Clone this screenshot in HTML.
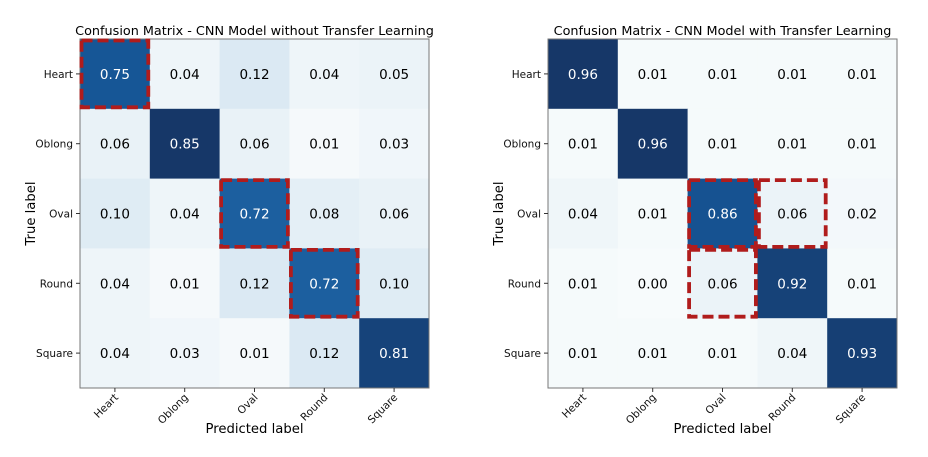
<!DOCTYPE html>
<html><head><meta charset="utf-8"><style>
body{margin:0;background:#fff;}
svg text{font-family:"DejaVu Sans","Liberation Sans",sans-serif;}
</style></head><body>
<svg id="c" width="928" height="452" xmlns="http://www.w3.org/2000/svg"></svg>
<script>
const categories = ["Heart","Oblong","Oval","Round","Square"];
const valuesLeft = [
 [0.75,0.04,0.12,0.04,0.05],
 [0.06,0.85,0.06,0.01,0.03],
 [0.10,0.04,0.72,0.08,0.06],
 [0.04,0.01,0.12,0.72,0.10],
 [0.04,0.03,0.01,0.12,0.81]];
const valuesRight = [
 [0.96,0.01,0.01,0.01,0.01],
 [0.01,0.96,0.01,0.01,0.01],
 [0.04,0.01,0.86,0.06,0.02],
 [0.01,0.00,0.06,0.92,0.01],
 [0.01,0.01,0.01,0.04,0.93]];
const highlightLeft = [[0,0],[2,2],[3,3]];
const highlightRight = [[2,2],[2,3],[3,2]];
const titles = ["Confusion Matrix - CNN Model without Transfer Learning","Confusion Matrix - CNN Model with Transfer Learning"];

const NS="http://www.w3.org/2000/svg";
const svg=document.getElementById('c');
const stops=[[247,251,255],[222,235,247],[198,219,239],[158,202,225],[107,174,214],[66,146,198],[33,113,181],[8,81,156],[8,48,107]];
function blues(t){t=Math.max(0,Math.min(1,t));const p=t*8,i=Math.min(7,Math.floor(p)),f=p-i;
 const c=stops[i].map((v,k)=>Math.round(v+(stops[i+1][k]-v)*f));
 const lift=t>0.5?14:0;
 return `rgb(${Math.min(255,c[0]+lift)},${Math.min(255,c[1]+lift/2)},${c[2]-3})`;}
function el(tag,attrs,parent){const e=document.createElementNS(NS,tag);for(const k in attrs)e.setAttribute(k,attrs[k]);(parent||svg).appendChild(e);return e;}

function drawMatrix(x0,y0,size,vals,hl,title,idx){
 const n=categories.length, cs=size/n;
 const g=el('g',{});
 
 
 const xs=i=>x0+i*cs, ys=i=>y0+i*cs;
 let mx=0;vals.forEach(r=>r.forEach(v=>mx=Math.max(mx,v)));
 vals.forEach((row,r)=>row.forEach((v,c)=>{
  const rc=el('rect',{x:xs(c),y:ys(r),width:cs+0.5,height:cs+0.5,fill:blues(v/mx)},g);
  
  
  const t=el('text',{x:xs(c)+cs/2,y:ys(r)+cs/2+5,'text-anchor':'middle','font-size':13.5,fill:v>mx/2?'#fff':'#000'},g);
  t.textContent=v.toFixed(2);
  
  
 }));
 const fr=el('rect',{x:x0,y:y0,width:size,height:size,fill:'none',stroke:'#777','stroke-width':1},g);
 
 
 hl.forEach(([r,c])=>{
  const h=el('rect',{x:xs(c)+1.5,y:ys(r)+1.5,width:cs-3,height:cs-3,fill:'none',stroke:'#b01c1c','stroke-width':3.8,'stroke-dasharray':'11,5'},g);
  
  
 });
 categories.forEach((cat,i)=>{
  el('line',{x1:x0-4,x2:x0,y1:ys(i)+cs/2,y2:ys(i)+cs/2,stroke:'#333'},g);
  const yl=el('text',{x:x0-7,y:ys(i)+cs/2+4,'text-anchor':'end','font-size':10.5,fill:'#111'},g);
  yl.textContent=cat;
  
  
  el('line',{x1:xs(i)+cs/2,x2:xs(i)+cs/2,y1:y0+size,y2:y0+size+4,stroke:'#333'},g);
  const cx=xs(i)+cs/2+4, cy=y0+size+10;
  const xl=el('text',{x:cx,y:cy,'text-anchor':'end','font-size':10.5,fill:'#111',transform:`rotate(-45 ${cx} ${cy})`},g);
  xl.textContent=cat;
  
  
 });
 const tt=el('text',{x:x0+size/2,y:y0-4,'text-anchor':'middle','font-size':12.8,fill:'#000'},g);
 tt.textContent=title;
 
 
 const xa=el('text',{x:x0+size/2,y:y0+size+45,'text-anchor':'middle','font-size':13.2,fill:'#000'},g);
 xa.textContent='Predicted label';
 
 
 const ax=x0-45, ay=y0+size/2;
 const ya=el('text',{x:ax,y:ay,'text-anchor':'middle','font-size':13.2,fill:'#000',transform:`rotate(-90 ${ax} ${ay})`},g);
 ya.textContent='True label';
 
 
}
drawMatrix(80,39,349,valuesLeft,highlightLeft,titles[0],'left');
drawMatrix(548,39,349,valuesRight,highlightRight,titles[1],'right');
</script>
</body></html>
